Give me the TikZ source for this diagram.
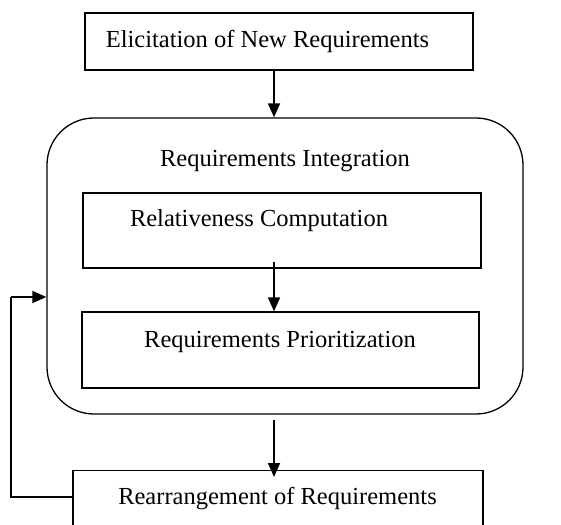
\documentclass[tikz,border=0pt]{standalone}
\usepackage{fontspec}
\setmainfont{Liberation Serif}
\usetikzlibrary{arrows.meta}
\begin{document}
\begin{tikzpicture}[x=1bp,y=-1bp,
  boxst/.style={draw,line width=1.3bp,inner sep=0pt},
  txt/.style={inner sep=0pt,font=\fontsize{24.6}{28}\selectfont},
  arr/.style={line width=1.8bp,-{Triangle[length=14bp,width=12bp]}}]
\useasboundingbox (0,0) rectangle (561,525);
\node[boxst,minimum width=388bp,minimum height=57bp] (top) at (279,41.5) {};
\node[txt] (toptxt) at (267.5,41) {Elicitation of New Requirements};
\node[draw,line width=1.3bp,rounded corners=47bp,minimum width=476bp,minimum height=296bp] (integ) at (285,266) {};
\node[txt] (integtxt) at (285,161) {Requirements Integration};
\node[boxst,minimum width=398bp,minimum height=75bp] (rel) at (282,230.5) {};
\node[txt] (reltxt) at (259,221) {Relativeness Computation};
\node[boxst,minimum width=397bp,minimum height=76bp] (prio) at (280.5,350) {};
\node[txt] (priotxt) at (280,342) {Requirements Prioritization};
\node[boxst,minimum width=410bp,minimum height=90bp,anchor=north] (rear) at (278,470) {};
\node[txt] (reartxt) at (277.5,499) {Rearrangement of Requirements};
\draw[arr] (top.south -| 274,0) -- (integ.north -| 274,0);
\draw[arr] (274,262) -- (prio.north -| 274,0);
\draw[arr,shorten >=-7bp] (274,420) -- (rear.north -| 274,0);
\draw[line width=1.3bp] (rear.west |- 0,497) -- (11,497) -- (11,297);
\draw[arr] (11,297) -- (integ.west |- 0,297);
\end{tikzpicture}
\end{document}
